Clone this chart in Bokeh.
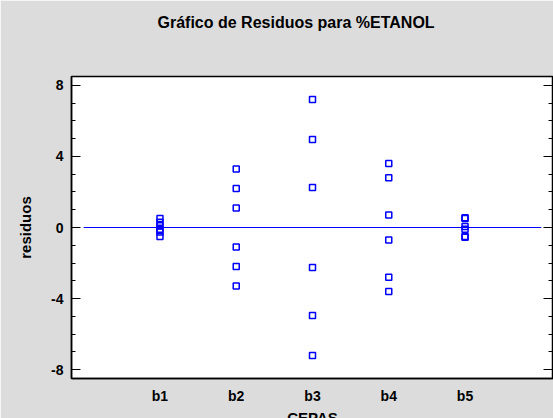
from bokeh.plotting import figure
from bokeh.models import LinearAxis, FixedTicker, Range1d, CustomLabelingPolicy, Title
from bokeh.embed import file_html
from bokeh.resources import INLINE

# Residuals of %ETANOL grouped by strain
cepas = ["b1", "b2", "b3", "b4", "b5"]
res_b1 = [0.5, 0.3, 0.1, -0.1, -0.25, -0.5]
res_b2 = [3.3, 2.2, 1.1, -1.1, -2.2, -3.3]
res_b3 = [7.2, 4.95, 2.25, -2.25, -4.95, -7.2]
res_b4 = [3.6, 2.8, 0.7, -0.7, -2.8, -3.6]
res_b5 = [0.55, 0.5, 0.05, -0.1, -0.5, -0.55]
y_ticks = [-8, -4, 0, 4, 8]
y_labels = ["-8", "-4", "0", "4", "8"]

groups = [res_b1, res_b2, res_b3, res_b4, res_b5]
xs, ys = [], []
for i, vals in enumerate(groups, start=1):
    xs += [i] * len(vals)
    ys += vals

FONT = "Liberation Sans"
HIDE_LABELS = "for (const i of indices) { indices.unset(i) } return indices"


def spacer(size):
    # an axis with nothing visible, used only to reserve room in a side panel
    return LinearAxis(ticker=FixedTicker(ticks=[3]), axis_line_color=None,
                      major_tick_line_color=None, minor_tick_line_color=None,
                      major_tick_in=0, major_tick_out=size, minor_tick_in=0,
                      minor_tick_out=0, major_label_standoff=0,
                      major_label_text_font_size="0px",
                      major_label_policy=CustomLabelingPolicy(code=HIDE_LABELS))


p = figure(width=553, height=418, output_backend="svg", toolbar_location=None,
           x_range=Range1d(-0.16, 6.16), y_range=Range1d(-8.5, 8.5),
           min_border_left=71, min_border_right=0, min_border_top=76,
           min_border_bottom=40)

xa = p.xaxis[0]
ya = p.yaxis[0]

p.title.text = "Gráfico de Residuos para %ETANOL"
p.title.text_font = FONT
p.title.text_font_size = "16px"
p.title.text_font_style = "bold"
p.title.text_color = "black"
p.title.align = "left"
p.title.offset = 86
p.title.vertical_align = "top"
p.title.standoff = 20

# empty band between the title and the frame
p.add_layout(spacer(34), "above")

p.background_fill_color = "white"
p.border_fill_color = "#dcdcdc"
p.outline_line_color = "black"
p.outline_line_width = 1.5
p.grid.visible = False

minor = [v for v in range(-8, 9) if v not in y_ticks]

# left axis
ya.ticker = FixedTicker(ticks=y_ticks, minor_ticks=minor)
ya.major_label_overrides = dict(zip(y_ticks, y_labels))
ya.axis_label = "residuos"
ya.axis_label_text_font = FONT
ya.axis_label_text_font_size = "15px"
ya.axis_label_text_font_style = "bold"
ya.axis_label_text_color = "black"
ya.major_label_text_font = FONT
ya.major_label_text_font_size = "14px"
ya.major_label_text_font_style = "bold"
ya.major_label_text_color = "black"
ya.major_tick_in = 9
ya.major_tick_out = 0
ya.minor_tick_in = 4
ya.minor_tick_out = 0
ya.axis_line_color = "black"
ya.axis_line_width = 1.5
ya.major_label_standoff = 8
ya.axis_label_standoff = 14

# right axis: ticks only, labels filtered out
ra = LinearAxis(ticker=FixedTicker(ticks=y_ticks, minor_ticks=minor))
ra.major_label_policy = CustomLabelingPolicy(code=HIDE_LABELS)
ra.major_label_text_font_size = "0px"
ra.major_tick_in = 10
ra.major_tick_out = 0
ra.minor_tick_in = 5
ra.minor_tick_out = 0
ra.axis_line_color = "black"
ra.axis_line_width = 1.5
ra.major_label_standoff = 0
p.add_layout(ra, "right")

# bottom axis with strain names
xa.ticker = FixedTicker(ticks=[1, 2, 3, 4, 5])
xa.major_label_overrides = {i + 1: c for i, c in enumerate(cepas)}
xa.major_label_text_font = FONT
xa.major_label_text_font_size = "14px"
xa.major_label_text_font_style = "bold"
xa.major_label_text_color = "black"
xa.major_tick_line_color = None
xa.minor_tick_line_color = None
xa.axis_line_color = "black"
xa.axis_line_width = 1.5
xa.major_label_standoff = 3

# x-axis name, running off the bottom edge
p.add_layout(spacer(7), "below")
p.add_layout(Title(text="CEPAS", align="center", vertical_align="bottom",
                   standoff=-14, text_font=FONT, text_font_size="15px",
                   text_font_style="bold", text_color="black"), "below")

# zero reference line
p.line(x=[0, 6], y=[0, 0], line_color="blue", line_width=1)

p.scatter(x=xs, y=ys, marker="square", size=6, fill_color=None,
          line_color="blue", line_width=1.5)

open("out.html", "w").write(file_html(p, INLINE))
